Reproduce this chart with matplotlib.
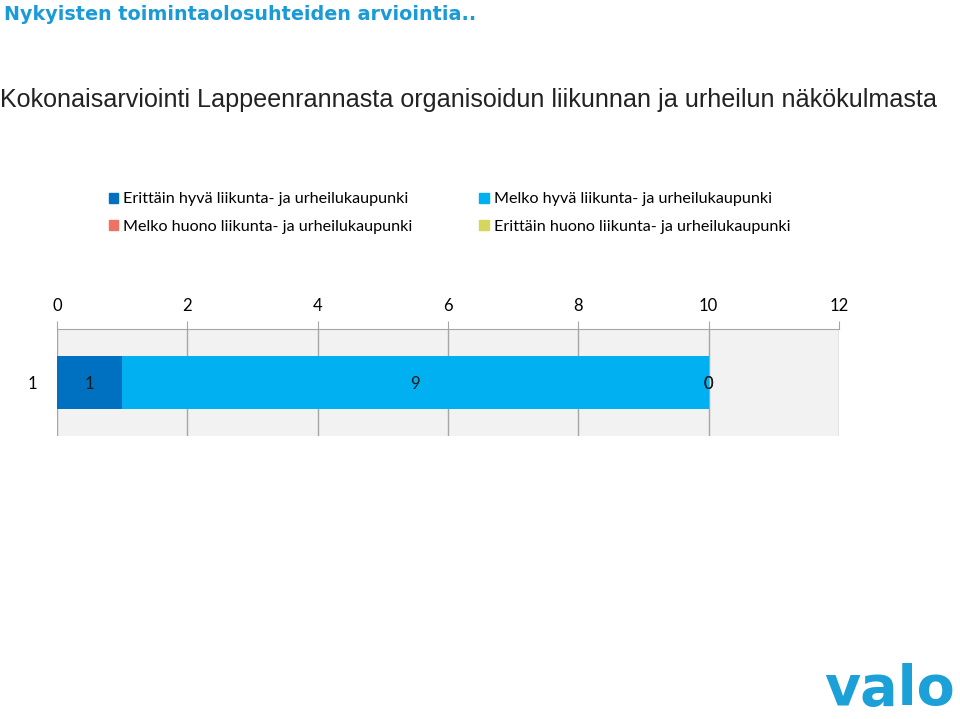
import numpy as np
import matplotlib.pyplot as plt
from matplotlib.patches import Patch

# Data
categories = ["1"]
series_names = [
    "Erittäin hyvä liikunta- ja urheilukaupunki",
    "Melko hyvä liikunta- ja urheilukaupunki",
    "Melko huono liikunta- ja urheilukaupunki",
    "Erittäin huono liikunta- ja urheilukaupunki",
]
series_values = [[1], [9], [0], [0]]
series_colors = ["#0070C0", "#00B0F0", "#EE7365", "#D6D65C"]
xticks = [0, 2, 4, 6, 8, 10, 12]

W, H = 960, 719
fig = plt.figure(figsize=(W / 100, H / 100), dpi=100)

# Titles
fig.text(4 / W, 1 - 14 / H, "Nykyisten toimintaolosuhteiden arviointia..",
         fontsize=13.8, fontweight="bold", color="#1A9AD6",
         family="DejaVu Sans", va="center", ha="left")
fig.text(0 / W, 1 - 100 / H,
         "Kokonaisarviointi Lappeenrannasta organisoidun liikunnan ja urheilun näkökulmasta",
         fontsize=18.1, color="#222222", family="Liberation Sans", va="center", ha="left")

# Chart area
ax = fig.add_axes([57 / W, 1 - 436 / H, (839 - 57) / W, (436 - 329) / H])
ax.set_facecolor("#F2F2F2")
y = np.arange(len(categories))
left = np.zeros(len(categories))
for name, vals, col in zip(series_names, series_values, series_colors):
    vals = np.array(vals, dtype=float)
    ax.barh(y, vals, left=left, height=0.5, color=col, zorder=3)
    for yi, v, l in zip(y, vals, left):
        ax.text(l + v / 2, yi - 0.01, f"{int(v)}", ha="center", va="center",
                fontsize=12, color="#1a1a1a", family="Lato", zorder=4)
    left = left + vals

ax.set_xlim(0, 12)
ax.set_ylim(-0.5, 0.5)
ax.xaxis.tick_top()
ax.set_xticks(xticks)
ax.set_xticklabels([str(t) for t in xticks], fontsize=12, family="Lato")
ax.tick_params(axis="x", length=6, color="#A6A6A6", pad=5)
ax.set_yticks(y)
ax.set_yticklabels(categories, fontsize=12, family="Lato")
ax.tick_params(axis="y", length=0, pad=14)
ax.grid(axis="x", color="#A6A6A6", linewidth=1, zorder=1)
for s in ["bottom", "left", "right"]:
    ax.spines[s].set_visible(False)
ax.spines["top"].set_color("#A6A6A6")

# Legend (row-wise order)
handles = [Patch(color=c) for c in series_colors]
order = [0, 2, 1, 3]
fig.legend([handles[i] for i in order], [series_names[i] for i in order],
           ncol=2, loc="upper left", bbox_to_anchor=(94 / W, 1 - 178 / H),
           frameon=False, handlelength=0.6, handleheight=0.6, handletextpad=0.3,
           columnspacing=4.15, labelspacing=0.82, prop={"family": "Lato", "size": 11.6})

# Logo
fig.text(955 / W, 1 - 690 / H, "valo", fontsize=40, fontweight="bold",
         color="#1BA0D8", family="DejaVu Sans", ha="right", va="center")

fig.savefig("out.png", dpi=100)
